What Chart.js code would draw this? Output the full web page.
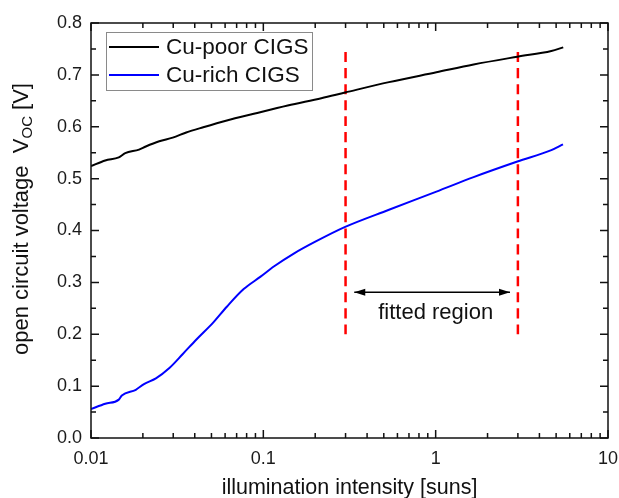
<!DOCTYPE html>
<html>
<head>
<meta charset="utf-8">
<script src="https://cdn.jsdelivr.net/npm/chart.js@4.4.1/dist/chart.umd.min.js"></script>
<style>
  body { margin: 0; background: #fff; }
  canvas { display: block; }
</style>
</head>
<body>
<canvas id="vocChart" width="619" height="498"></canvas>
<script>
// values (illumination in suns, Voc in volts)
var cuPoorSuns = [0.01, 0.0121, 0.0145, 0.0158, 0.019, 0.0208, 0.0249, 0.0298, 0.0357, 0.0448, 0.0614, 0.088, 0.1385, 0.217, 0.298, 0.536, 1.01, 1.66, 2.98, 4.69, 5.5];
var cuPoorVoc  = [0.524, 0.535, 0.541, 0.549, 0.556, 0.562, 0.572, 0.579, 0.589, 0.599, 0.612, 0.625, 0.641, 0.655, 0.666, 0.686, 0.705, 0.720, 0.735, 0.746, 0.753];

var cuRichSuns = [0.01, 0.0121, 0.0145, 0.0151, 0.0182, 0.0203, 0.0238, 0.0285, 0.0341, 0.0409, 0.0513, 0.0614, 0.0769, 0.0964, 0.1156, 0.151, 0.199, 0.2985, 0.536, 1.01, 1.66, 2.98, 4.69, 5.48];
var cuRichVoc  = [0.056, 0.066, 0.074, 0.082, 0.093, 0.104, 0.115, 0.135, 0.162, 0.19, 0.223, 0.253, 0.287, 0.311, 0.331, 0.356, 0.378, 0.407, 0.440, 0.475, 0.503, 0.533, 0.555, 0.566];

// fitted region limits and the arrow between them
var fitBounds = [0.3, 3];
var fitLineVoc = [0.2, 0.755];
var arrowSuns = [0.337, 2.7];
var arrowVoc = 0.281;
var fitLabel = 'fitted region';
var fitLabelPos = { x: 1.0, y: 0.242 };

// ticks
var xMajorTicks = [0.01, 0.1, 1, 10];
var xTickLabels = ['0.01', '0.1', '1', '10'];
var xMinorTicks = [0.02, 0.03, 0.04, 0.05, 0.06, 0.07, 0.08, 0.09,
                   0.2, 0.3, 0.4, 0.5, 0.6, 0.7, 0.8, 0.9,
                   2, 3, 4, 5, 6, 7, 8, 9];
var yMajorTicks = [0, 0.1, 0.2, 0.3, 0.4, 0.5, 0.6, 0.7, 0.8];
var yTickLabels = ['0.0', '0.1', '0.2', '0.3', '0.4', '0.5', '0.6', '0.7', '0.8'];
var yMinorTicks = [0.05, 0.15, 0.25, 0.35, 0.45, 0.55, 0.65, 0.75];

var FONT = '"Liberation Sans", Arial, sans-serif';

function pts(xs, ys) {
  return xs.map(function (x, i) { return { x: x, y: ys[i] }; });
}

var datasets = [
  { label: 'Cu-poor CIGS', data: pts(cuPoorSuns, cuPoorVoc), borderColor: '#000000', borderWidth: 2, inLegend: true },
  { label: 'Cu-rich CIGS', data: pts(cuRichSuns, cuRichVoc), borderColor: '#0000ff', borderWidth: 2, inLegend: true },
  { label: 'fit low', data: pts([fitBounds[0], fitBounds[0]], fitLineVoc), borderColor: '#ff0000', borderWidth: 2.5, borderDash: [10, 6] },
  { label: 'fit high', data: pts([fitBounds[1], fitBounds[1]], fitLineVoc), borderColor: '#ff0000', borderWidth: 2.5, borderDash: [10, 6] },
  { label: 'arrow', data: pts(arrowSuns, [arrowVoc, arrowVoc]), borderColor: '#000000', borderWidth: 1.5 }
];

var decorations = {
  id: 'decorations',
  afterDatasetsDraw: function (chart) {
    var ctx = chart.ctx;
    var a = chart.chartArea;
    var xs = chart.scales.x, ys = chart.scales.y;
    ctx.save();

    // frame
    ctx.strokeStyle = '#111';
    ctx.lineWidth = 1.5;
    ctx.strokeRect(a.left, a.top, a.right - a.left, a.bottom - a.top);

    // inward ticks on all four sides
    function xTick(v, len) {
      var px = xs.getPixelForValue(v);
      ctx.beginPath();
      ctx.moveTo(px, a.bottom); ctx.lineTo(px, a.bottom - len);
      ctx.moveTo(px, a.top); ctx.lineTo(px, a.top + len);
      ctx.stroke();
    }
    function yTick(v, len) {
      var py = ys.getPixelForValue(v);
      ctx.beginPath();
      ctx.moveTo(a.left, py); ctx.lineTo(a.left + len, py);
      ctx.moveTo(a.right, py); ctx.lineTo(a.right - len, py);
      ctx.stroke();
    }
    xMajorTicks.forEach(function (v) { xTick(v, 8); });
    xMinorTicks.forEach(function (v) { xTick(v, 5); });
    yMajorTicks.forEach(function (v) { yTick(v, 8); });
    yMinorTicks.forEach(function (v) { yTick(v, 5); });

    // arrow heads on the fitted region arrow
    var arrowMeta = chart.getDatasetMeta(4).data;
    ctx.fillStyle = '#000';
    function head(tip, dir) {
      ctx.beginPath();
      ctx.moveTo(tip.x, tip.y);
      ctx.lineTo(tip.x - dir * 11, tip.y - 3.5);
      ctx.lineTo(tip.x - dir * 11, tip.y + 3.5);
      ctx.closePath();
      ctx.fill();
    }
    head(arrowMeta[0], -1);
    head(arrowMeta[1], 1);

    // annotation text
    ctx.font = '22px ' + FONT;
    ctx.fillStyle = '#111';
    ctx.textAlign = 'center';
    ctx.textBaseline = 'middle';
    ctx.fillText(fitLabel, xs.getPixelForValue(fitLabelPos.x), ys.getPixelForValue(fitLabelPos.y));

    // legend box
    var lx = a.left + 15, ly = a.top + 9;
    var lw = 206, lh = 58;
    ctx.fillStyle = '#fff';
    ctx.fillRect(lx, ly, lw, lh);
    ctx.strokeStyle = '#8a8a8a';
    ctx.lineWidth = 1;
    ctx.strokeRect(lx + 0.5, ly + 0.5, lw, lh);
    var rows = chart.data.datasets.filter(function (d) { return d.inLegend; });
    ctx.textAlign = 'left';
    ctx.font = '22.5px ' + FONT;
    rows.forEach(function (d, i) {
      var ry = ly + 15 + i * 28;
      ctx.strokeStyle = d.borderColor;
      ctx.lineWidth = 2;
      ctx.beginPath();
      ctx.moveTo(lx + 3, ry); ctx.lineTo(lx + 53, ry);
      ctx.stroke();
      ctx.fillStyle = '#111';
      ctx.fillText(d.label, lx + 60, ry + 1);
    });

    // y axis title with subscript
    ctx.translate(28, 219);
    ctx.rotate(-Math.PI / 2);
    ctx.textAlign = 'left';
    ctx.textBaseline = 'alphabetic';
    ctx.fillStyle = '#111';
    var bigFont = '22px ' + FONT, subFont = '15px ' + FONT;
    var p1 = 'open circuit voltage  V', p2 = 'OC', p3 = ' [V]';
    ctx.font = bigFont;
    var w1 = ctx.measureText(p1).width, w3 = ctx.measureText(p3).width;
    ctx.font = subFont;
    var w2 = ctx.measureText(p2).width;
    var x0 = -(w1 + w2 + w3) / 2;
    ctx.font = bigFont;
    ctx.fillText(p1, x0, 0);
    ctx.font = subFont;
    ctx.fillText(p2, x0 + w1, 4);
    ctx.font = bigFont;
    ctx.fillText(p3, x0 + w1 + w2, 0);

    ctx.restore();
  }
};

var ctx = document.getElementById('vocChart').getContext('2d');

var vocChart = new Chart(ctx, {
  type: 'line',
  data: { datasets: datasets },
  options: {
    responsive: false,
    animation: false,
    layout: { padding: { top: 23, right: 11, left: 0, bottom: 0 } },
    elements: {
      point: { radius: 0, hoverRadius: 0 },
      line: { cubicInterpolationMode: 'monotone', fill: false }
    },
    plugins: {
      legend: { display: false },
      tooltip: { enabled: false }
    },
    scales: {
      x: {
        type: 'logarithmic',
        min: 0.01,
        max: 10,
        afterBuildTicks: function (s) { s.ticks = xMajorTicks.map(function (v) { return { value: v }; }); },
        afterFit: function (s) { s.height = 60; s.paddingLeft = 0; s.paddingRight = 0; },
        grid: { display: false, drawTicks: false },
        border: { display: false },
        ticks: {
          autoSkip: false,
          maxRotation: 0,
          padding: 10,
          color: '#1a1a1a',
          font: { family: FONT, size: 18 },
          callback: function (v, i) { return xTickLabels[i]; }
        },
        title: {
          display: true,
          text: 'illumination intensity [suns]',
          color: '#111',
          font: { family: FONT, size: 21.5 },
          padding: { top: 0, bottom: -3 }
        }
      },
      y: {
        type: 'linear',
        min: 0,
        max: 0.8,
        afterBuildTicks: function (s) { s.ticks = yMajorTicks.map(function (v) { return { value: v }; }); },
        afterFit: function (s) { s.width = 91; },
        grid: { display: false, drawTicks: false },
        border: { display: false },
        ticks: {
          padding: 9,
          color: '#1a1a1a',
          font: { family: FONT, size: 18 },
          callback: function (v, i) { return yTickLabels[i]; }
        }
      }
    }
  },
  plugins: [decorations]
});
</script>
</body>
</html>
